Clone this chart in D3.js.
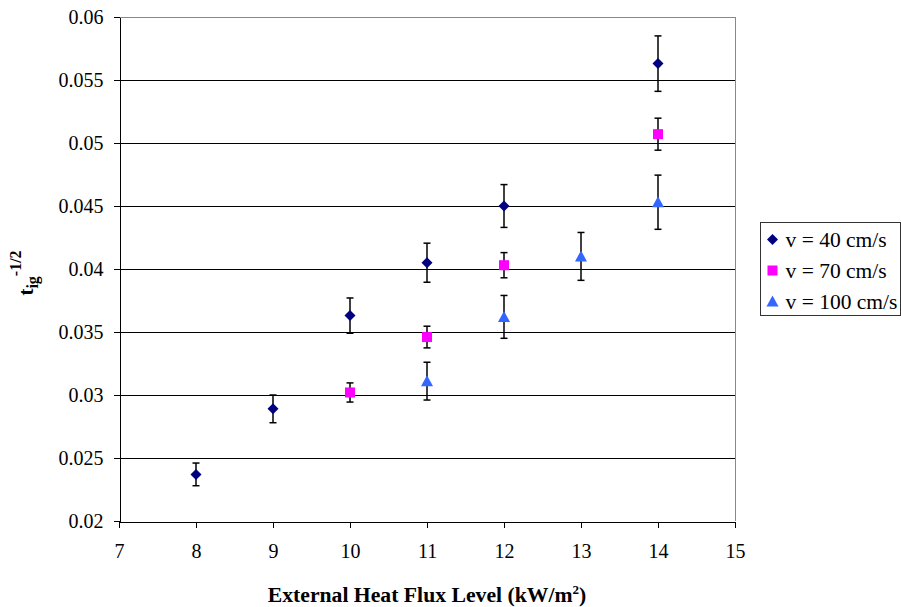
<!DOCTYPE html>
<meta charset="utf-8">
<style>
body { margin: 0; background: #fff; }
text { font-family: "Liberation Serif", "Times New Roman", serif; }
.grid line { stroke: #000; stroke-width: 1; shape-rendering: crispEdges; }
.axis path, .axis line { stroke: #000; shape-rendering: crispEdges; }
.axis text { font-size: 20px; fill: #000; font-family: "Liberation Serif", serif; }
</style>
<svg width="901" height="607"></svg>
<script src="https://cdn.jsdelivr.net/npm/d3@7/dist/d3.min.js"></script>
<script>

// data
var flux40 = [8, 9, 10, 11, 12, 14],
    val40 = [0.0237, 0.0289, 0.0363, 0.0405, 0.0450, 0.0563],
    err40 = [0.0009, 0.0011, 0.0014, 0.00155, 0.0017, 0.0022];

var flux70 = [10, 11, 12, 14],
    val70 = [0.0302, 0.0346, 0.0403, 0.0507],
    err70 = [0.00076, 0.00086, 0.001, 0.00127];

var flux100 = [11, 12, 13, 14],
    val100 = [0.0311, 0.0362, 0.0410, 0.0453],
    err100 = [0.0015, 0.0017, 0.0019, 0.00215];

var seriesNames = ["v = 40 cm/s", "v = 70 cm/s", "v = 100 cm/s"];
var xTicks = [7, 8, 9, 10, 11, 12, 13, 14, 15];
var yTicks = [0.02, 0.025, 0.03, 0.035, 0.04, 0.045, 0.05, 0.055, 0.06];

var svg = d3.select("svg");
var pl = 119, pr = 735, pt = 17, pb = 521;

var x = d3.scaleLinear().domain([7, 15]).range([pl, pr]);
var y = d3.scaleLinear().domain([0.02, 0.06]).range([pb, pt]);

// gridlines
svg.append("g").attr("class", "grid")
  .selectAll("line").data(yTicks.slice(1, -1)).enter().append("line")
  .attr("x1", pl).attr("x2", pr)
  .attr("y1", function(d) { return Math.round(y(d)) + 0.5; })
  .attr("y2", function(d) { return Math.round(y(d)) + 0.5; });

// frame (top/right gray)
svg.append("path")
  .attr("d", "M" + pl + "," + (pt + 0.5) + "H" + (pr + 0.5) + "V" + pb)
  .attr("fill", "none").attr("stroke", "#888").attr("shape-rendering", "crispEdges");

var yAxis = d3.axisLeft(y).tickValues(yTicks).tickSize(6).tickSizeOuter(0).tickPadding(10)
  .tickFormat(function(d) { return +d.toFixed(3); });
svg.append("g").attr("class", "axis").attr("transform", "translate(" + (pl + 0.5) + ",0)").call(yAxis);

var xAxis = d3.axisBottom(x).tickValues(xTicks).tickSize(6).tickSizeOuter(0).tickPadding(16)
  .tickFormat(d3.format("d"));
svg.append("g").attr("class", "axis").attr("transform", "translate(0," + (pb + 0.5) + ")").call(xAxis);

var series = [
  { xs: flux40, vs: val40, es: err40, color: "#000080", shape: "diamond" },
  { xs: flux70, vs: val70, es: err70, color: "#FF00FF", shape: "square" },
  { xs: flux100, vs: val100, es: err100, color: "#3366FF", shape: "triangle" }
];

function marker(sel, shape, color) {
  if (shape === "diamond") {
    sel.append("path").attr("d", "M0,-5.5L5.5,0L0,5.5L-5.5,0Z").attr("fill", color);
  } else if (shape === "square") {
    sel.append("rect").attr("x", -5).attr("y", -5).attr("width", 10).attr("height", 10).attr("fill", color);
  } else {
    sel.append("path").attr("d", "M0,-6L6,5L-6,5Z").attr("fill", color);
  }
}

series.forEach(function(s) {
  var pts = s.xs.map(function(d, i) { return { x: d, v: s.vs[i], e: s.es[i] }; });
  var g = svg.append("g");
  // error bars
  var eb = g.selectAll(".eb").data(pts).enter().append("g")
    .attr("stroke", "#000").attr("stroke-width", 1.5);
  eb.append("line")
    .attr("x1", function(d) { return x(d.x); }).attr("x2", function(d) { return x(d.x); })
    .attr("y1", function(d) { return y(d.v + d.e); }).attr("y2", function(d) { return y(d.v - d.e); });
  eb.append("line")
    .attr("x1", function(d) { return x(d.x) - 3.5; }).attr("x2", function(d) { return x(d.x) + 3.5; })
    .attr("y1", function(d) { return y(d.v + d.e); }).attr("y2", function(d) { return y(d.v + d.e); });
  eb.append("line")
    .attr("x1", function(d) { return x(d.x) - 3.5; }).attr("x2", function(d) { return x(d.x) + 3.5; })
    .attr("y1", function(d) { return y(d.v - d.e); }).attr("y2", function(d) { return y(d.v - d.e); });
  // markers
  g.selectAll(".m").data(pts).enter().append("g")
    .attr("transform", function(d) { return "translate(" + x(d.x) + "," + y(d.v) + ")"; })
    .each(function() { marker(d3.select(this), s.shape, s.color); });
});

// legend
var lg = svg.append("g").attr("transform", "translate(760.5,222.5)");
lg.append("rect").attr("width", 140).attr("height", 93).attr("fill", "#fff").attr("stroke", "#333");
seriesNames.forEach(function(name, i) {
  var row = lg.append("g").attr("transform", "translate(12," + (17 + i * 31) + ")");
  marker(row, series[i].shape, series[i].color);
  row.append("text").attr("x", 13).attr("y", 7).attr("font-size", "21.5px").text(name);
});

// axis titles
svg.append("text").attr("x", 427).attr("y", 602).attr("text-anchor", "middle")
  .attr("font-size", "21.7px").attr("font-weight", "bold")
  .html('External Heat Flux Level (kW/m<tspan dy="-8" font-size="13px">2</tspan><tspan dy="8">)</tspan>');

svg.append("text").attr("transform", "translate(33,273) rotate(-90)").attr("text-anchor", "middle")
  .attr("font-size", "21px").attr("font-weight", "bold")
  .html('t<tspan dy="5" font-size="16px">ig</tspan><tspan dy="-17" font-size="16px">-1/2</tspan>');

</script>
